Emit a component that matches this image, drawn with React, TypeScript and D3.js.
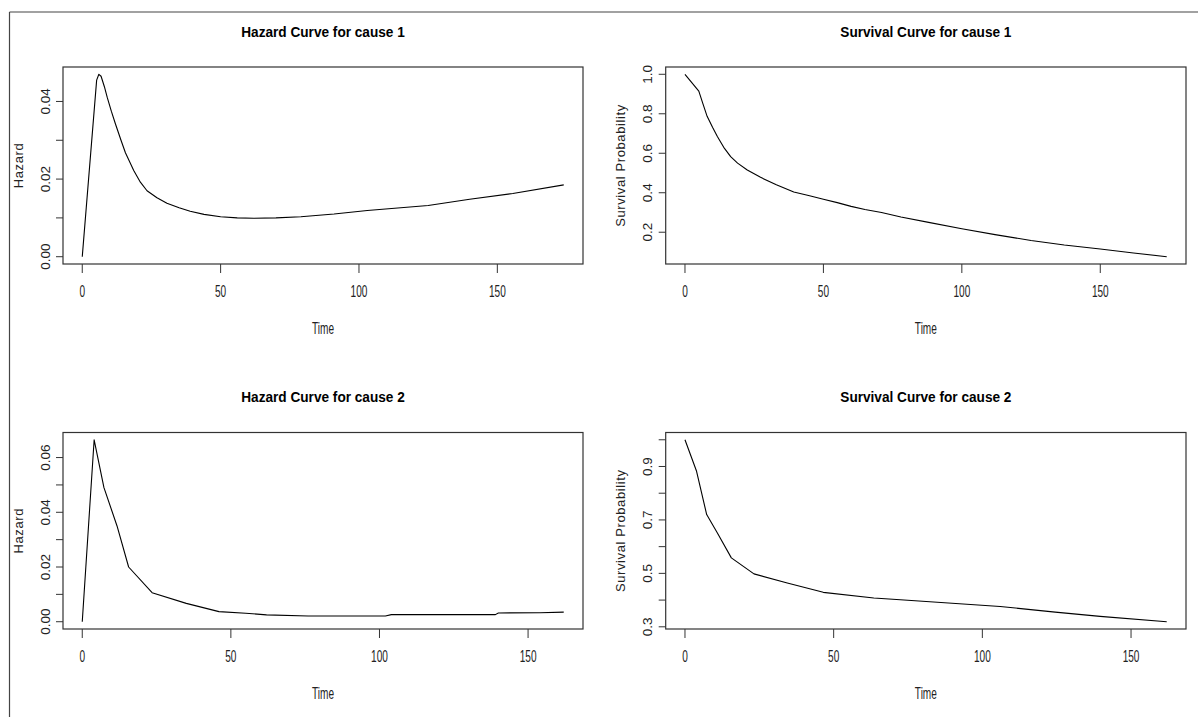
import React from "react";
import * as d3 from "d3";

// ---- Data ----
const hazard1Time = [0, 5.2, 6, 6.8, 8, 9, 10.5, 12, 14, 15.6, 18.6, 21, 23.4, 27, 30.6, 35, 39, 44, 50, 56, 62, 70, 79, 91, 103, 125, 140, 155.6, 174];
const hazard1Value = [0, 0.0455, 0.047, 0.0465, 0.0438, 0.0411, 0.0375, 0.0342, 0.0300, 0.0268, 0.0222, 0.0192, 0.017, 0.0152, 0.0138, 0.0126, 0.0117, 0.0109, 0.0103, 0.0100, 0.0099, 0.0100, 0.0103, 0.011, 0.0119, 0.0132, 0.0148, 0.0163, 0.0185];

const surv1Time = [0, 5, 6.5, 8, 10, 11.7, 14, 16.5, 19, 22.5, 27.3, 33, 39.3, 45, 50, 55, 60, 65, 71, 78, 88, 100, 112, 125, 137, 150, 162, 174];
const surv1Value = [1.0, 0.915, 0.85, 0.787, 0.73, 0.685, 0.63, 0.583, 0.55, 0.515, 0.478, 0.44, 0.404, 0.385, 0.367, 0.35, 0.331, 0.315, 0.3, 0.277, 0.25, 0.218, 0.188, 0.158, 0.135, 0.115, 0.095, 0.076];

const hazard2Time = [0, 4, 7.3, 11.7, 15.6, 23.5, 35, 46, 55, 62, 76, 102, 104, 139, 140, 154, 162];
const hazard2Value = [0, 0.0665, 0.049, 0.035, 0.02, 0.0106, 0.0067, 0.0037, 0.0031, 0.0025, 0.0021, 0.0021, 0.0026, 0.0026, 0.0032, 0.0033, 0.0035];

const surv2Time = [0, 3.9, 7.3, 10.9, 15.6, 23.2, 34.4, 46.5, 63.5, 72.4, 106, 124.5, 139.6, 162];
const surv2Value = [1.0, 0.882, 0.72, 0.651, 0.558, 0.498, 0.464, 0.429, 0.408, 0.401, 0.376, 0.355, 0.339, 0.319];

const xTicks = [0, 50, 100, 150];
const xTickLabels = ["0", "50", "100", "150"];

const hazard1YTicks = [0, 0.01, 0.02, 0.03, 0.04];
const hazard1YLabels = ["0.00", "", "0.02", "", "0.04"];
const surv1YTicks = [0.2, 0.4, 0.6, 0.8, 1.0];
const surv1YLabels = ["0.2", "0.4", "0.6", "0.8", "1.0"];
const hazard2YTicks = [0, 0.01, 0.02, 0.03, 0.04, 0.05, 0.06];
const hazard2YLabels = ["0.00", "", "0.02", "", "0.04", "", "0.06"];
const surv2YTicks = [0.3, 0.4, 0.5, 0.6, 0.7, 0.8, 0.9, 1.0];
const surv2YLabels = ["0.3", "", "0.5", "", "0.7", "", "0.9", ""];

const titles = ["Hazard Curve for cause 1", "Survival Curve for cause 1", "Hazard Curve for cause 2", "Survival Curve for cause 2"];
const yAxisTitles = ["Hazard", "Survival Probability", "Hazard", "Survival Probability"];
const xAxisTitle = "Time";

const W = 1198;
const H = 717;
const FONT = "'Liberation Sans', Arial, Helvetica, sans-serif";

function padded(ext: [number, number]): [number, number] {
  const r = ext[1] - ext[0];
  return [ext[0] - 0.04 * r, ext[1] + 0.04 * r];
}

type PanelProps = {
  title: string;
  yTitle: string;
  times: number[];
  values: number[];
  yTicks: number[];
  yLabels: string[];
  left: number;
  right: number;
  top: number;
  bottom: number;
};

function Panel(p: PanelProps) {
  const x = d3.scaleLinear().domain(padded(d3.extent(p.times) as [number, number])).range([p.left, p.right]);
  const y = d3.scaleLinear().domain(padded(d3.extent(p.values) as [number, number])).range([p.bottom, p.top]);
  const pts: [number, number][] = p.times.map((t, i) => [t, p.values[i]]);
  const line = d3.line<[number, number]>().x((d) => x(d[0])).y((d) => y(d[1]));
  const cx = (p.left + p.right) / 2;
  const cy = (p.top + p.bottom) / 2;
  const tickStroke = "#333";
  return (
    <g>
      <text
        transform={`translate(${cx},${p.top - 30.5}) scale(0.88,1)`}
        textAnchor="middle"
        fontFamily={FONT}
        fontWeight="bold"
        fontSize={15.5}
        fill="#000"
      >
        {p.title}
      </text>
      <rect x={p.left} y={p.top} width={p.right - p.left} height={p.bottom - p.top} fill="none" stroke="#333" strokeWidth={1.2} />
      {xTicks.map((t, i) => (
        <g key={"xt" + i}>
          <line x1={x(t)} x2={x(t)} y1={p.bottom} y2={p.bottom + 9} stroke={tickStroke} strokeWidth={1} />
          <text
            transform={`translate(${x(t)},${p.bottom + 28}) scale(0.63,1)`}
            textAnchor="middle"
            dominantBaseline="central"
            fontFamily={FONT}
            fontSize={16}
            fill="#222"
          >
            {xTickLabels[i]}
          </text>
        </g>
      ))}
      {p.yTicks.map((t, i) => (
        <g key={"yt" + i}>
          <line x1={p.left - 7} x2={p.left} y1={y(t)} y2={y(t)} stroke={tickStroke} strokeWidth={1} />
          {p.yLabels[i] ? (
            <text
              transform={`translate(${p.left - 18},${y(t)}) rotate(-90)`}
              textAnchor="middle"
              dominantBaseline="central"
              fontFamily={FONT}
              fontSize={13.5}
              fill="#222"
            >
              {p.yLabels[i]}
            </text>
          ) : null}
        </g>
      ))}
      <text
        transform={`translate(${cx},${p.bottom + 64.5}) scale(0.63,1)`}
        textAnchor="middle"
        dominantBaseline="central"
        fontFamily={FONT}
        fontSize={16}
        fill="#222"
      >
        {xAxisTitle}
      </text>
      <text
        transform={`translate(${p.left - 45},${cy}) rotate(-90)`}
        textAnchor="middle"
        dominantBaseline="central"
        fontFamily={FONT}
        fontSize={13}
        letterSpacing={0.6}
        fill="#222"
      >
        {p.yTitle}
      </text>
      <path d={line(pts) || ""} fill="none" stroke="#000" strokeWidth={1.1} strokeLinejoin="round" />
    </g>
  );
}

export default function App() {
  const leftX: [number, number] = [63, 583];
  const rightX: [number, number] = [665.7, 1186];
  const topY: [number, number] = [67, 264];
  const botY: [number, number] = [432.5, 629];
  return (
    <svg
      width={W}
      height={H}
      style={{ position: "absolute", left: 0, top: 0, display: "block", background: "#fff" }}
    >
      <rect x={0} y={0} width={W} height={H} fill="#fff" />
      <line x1={9.5} x2={W} y1={12} y2={12} stroke="#444" strokeWidth={1.2} />
      <line x1={9.5} x2={9.5} y1={12} y2={H} stroke="#444" strokeWidth={1.2} />
      <Panel title={titles[0]} yTitle={yAxisTitles[0]} times={hazard1Time} values={hazard1Value}
        yTicks={hazard1YTicks} yLabels={hazard1YLabels} left={leftX[0]} right={leftX[1]} top={topY[0]} bottom={topY[1]} />
      <Panel title={titles[1]} yTitle={yAxisTitles[1]} times={surv1Time} values={surv1Value}
        yTicks={surv1YTicks} yLabels={surv1YLabels} left={rightX[0]} right={rightX[1]} top={topY[0]} bottom={topY[1]} />
      <Panel title={titles[2]} yTitle={yAxisTitles[2]} times={hazard2Time} values={hazard2Value}
        yTicks={hazard2YTicks} yLabels={hazard2YLabels} left={leftX[0]} right={leftX[1]} top={botY[0]} bottom={botY[1]} />
      <Panel title={titles[3]} yTitle={yAxisTitles[3]} times={surv2Time} values={surv2Value}
        yTicks={surv2YTicks} yLabels={surv2YLabels} left={rightX[0]} right={rightX[1]} top={botY[0]} bottom={botY[1]} />
    </svg>
  );
}
